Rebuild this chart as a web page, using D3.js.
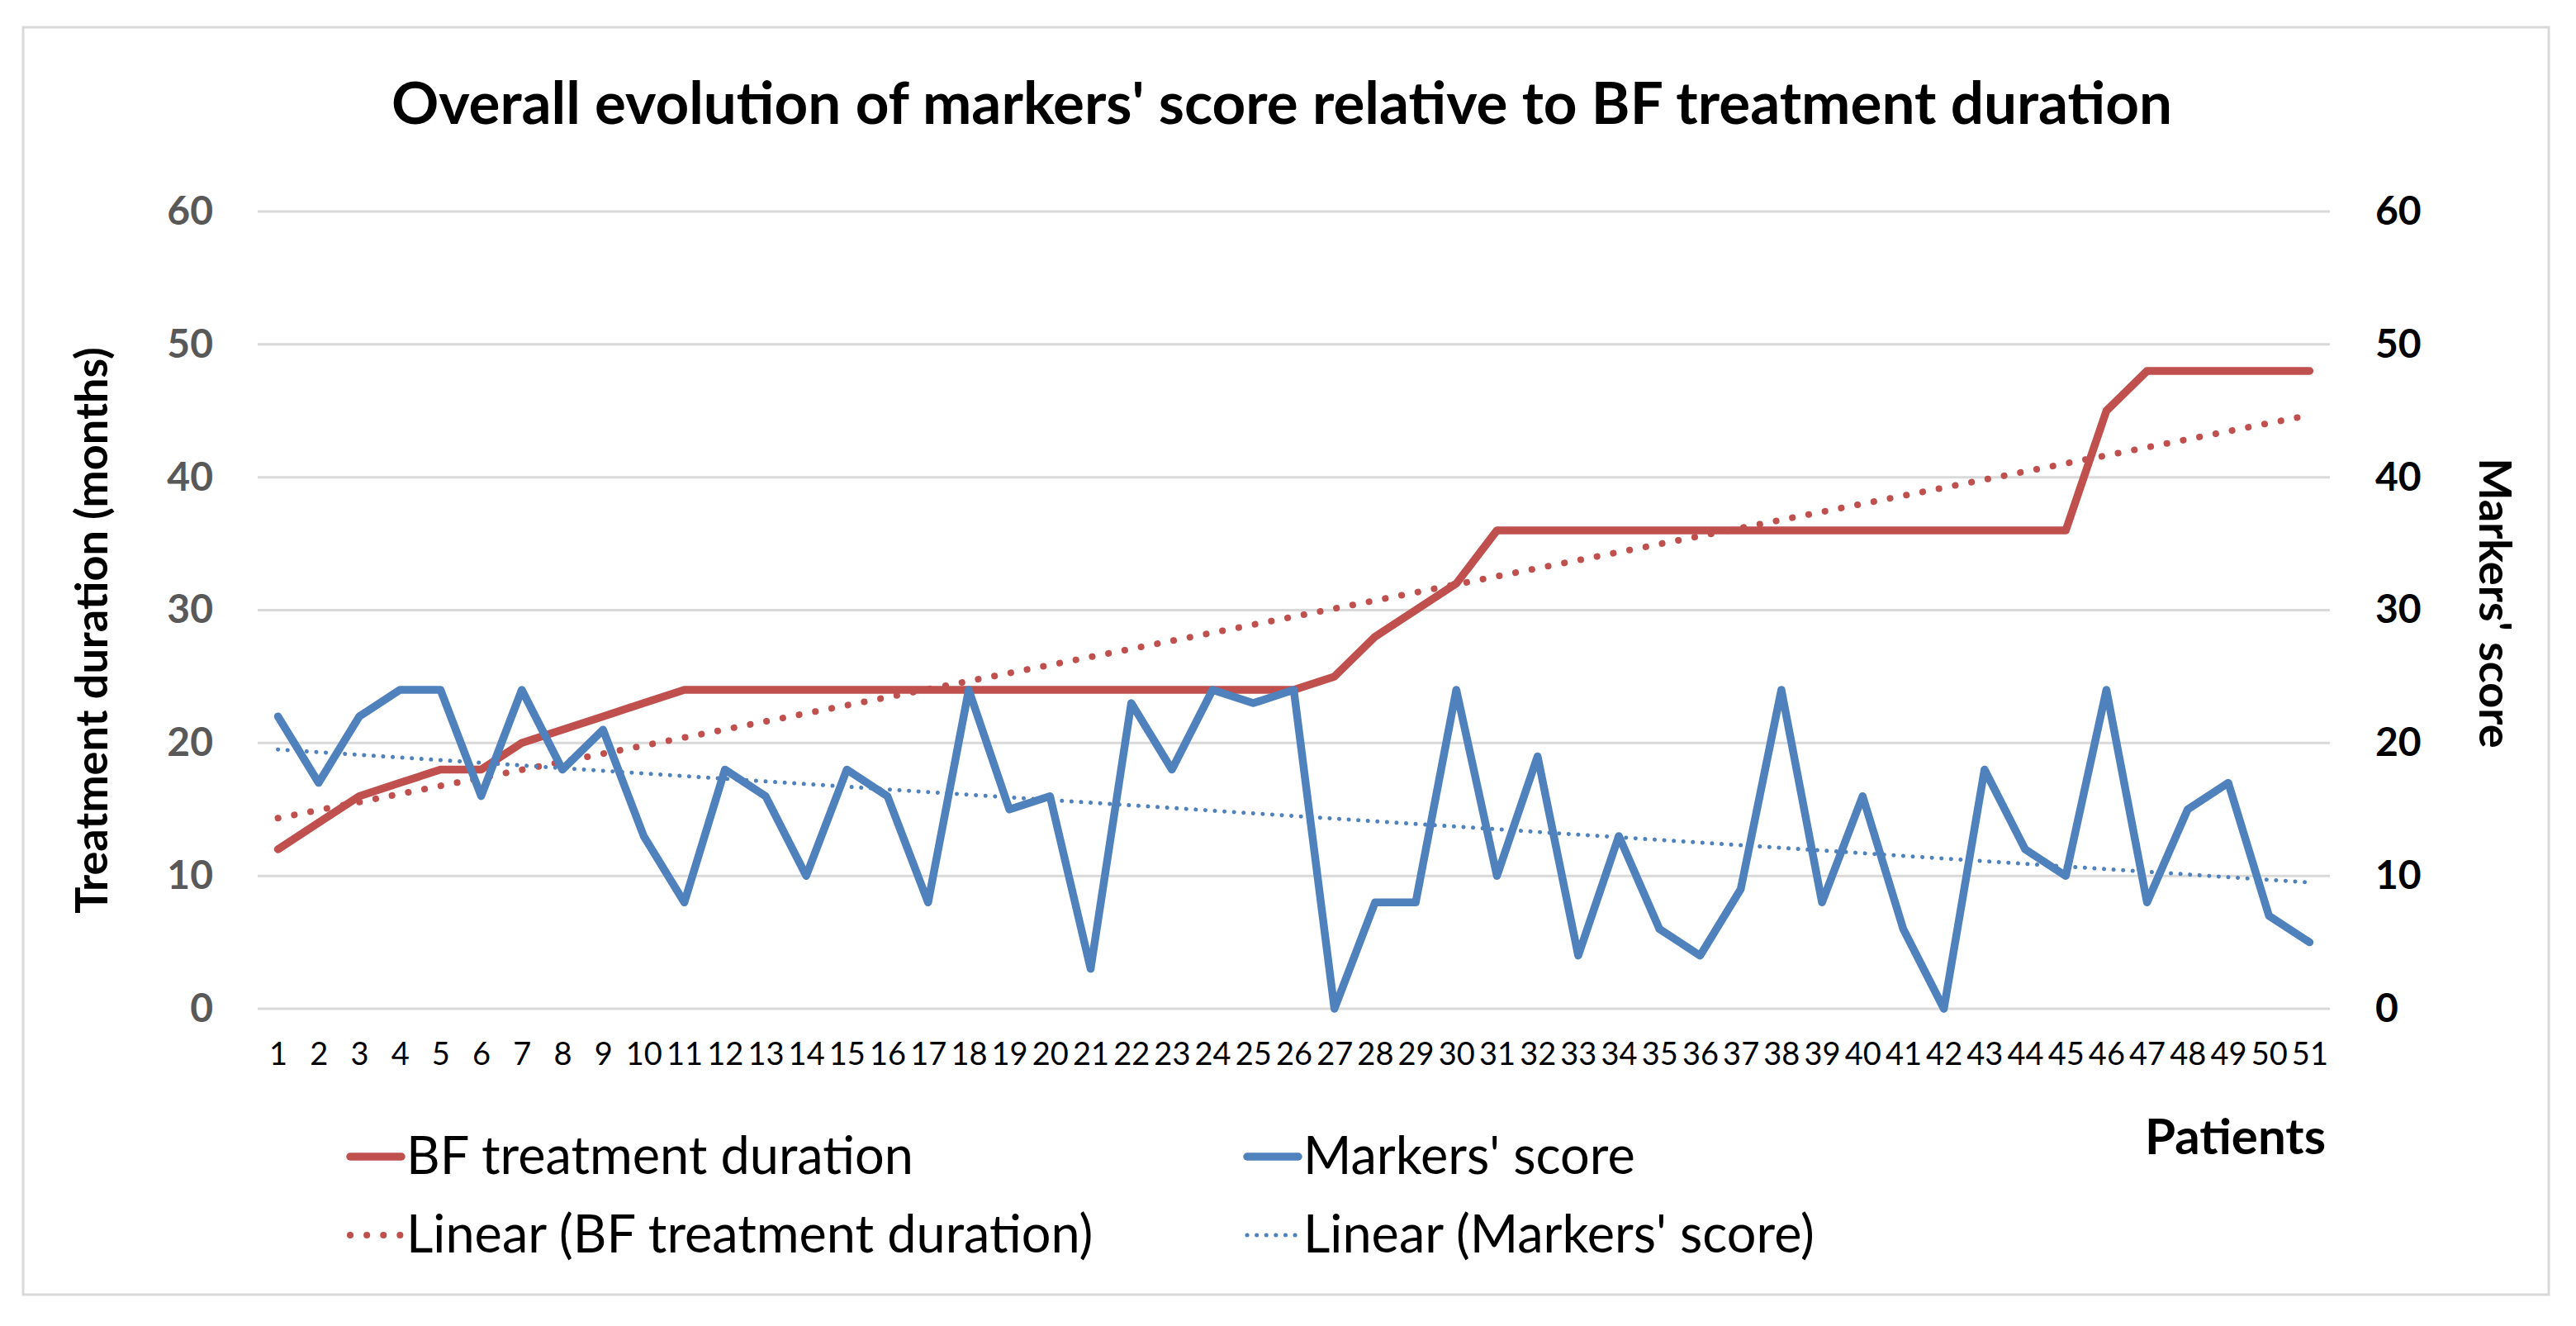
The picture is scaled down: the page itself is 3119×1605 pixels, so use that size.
<!DOCTYPE html>
<html>
<head>
<meta charset="utf-8">
<script src="https://cdn.jsdelivr.net/npm/d3@7"></script>
<style>
  body { margin: 0; background: #fff; }
  text { font-family: Lato, "Open Sans", sans-serif; }
</style>
</head>
<body>
<div id="chart"></div>
<script>
// patients 1..51
const patients = d3.range(1, 52).map(String);

// BF treatment duration (months), left axis
const duration = [12, 14, 16, 17, 18, 18, 20, 21, 22, 23,
                  24, 24, 24, 24, 24, 24, 24, 24, 24, 24,
                  24, 24, 24, 24, 24, 24, 25, 28, 30, 32,
                  36, 36, 36, 36, 36, 36, 36, 36, 36, 36,
                  36, 36, 36, 36, 36, 45, 48, 48, 48, 48, 48];

// Markers' score, right axis
const score = [22, 17, 22, 24, 24, 16, 24, 18, 21, 13,
               8, 18, 16, 10, 18, 16, 8, 24, 15, 16,
               3, 23, 18, 24, 23, 24, 0, 8, 8, 24,
               10, 19, 4, 13, 6, 4, 9, 24, 8, 16,
               6, 0, 18, 12, 10, 24, 8, 15, 17, 7, 5];

const yTicks = [0, 10, 20, 30, 40, 50, 60];

const width = 3119;
const height = 1605;
const plot = { left: 312, right: 2821, top: 256, bottom: 1221 };

const red = "#c0504d";
const blue = "#4f81bd";

const svg = d3.select("#chart")
    .append("svg")
    .attr("width", width)
    .attr("height", height);

svg.append("rect")
    .attr("width", width).attr("height", height)
    .attr("fill", "#fff");

// chart frame
svg.append("rect")
    .attr("x", 28).attr("y", 33)
    .attr("width", 3058).attr("height", 1534)
    .attr("fill", "none")
    .attr("stroke", "#d9d9d9")
    .attr("stroke-width", 3);

const x = d3.scalePoint()
    .domain(patients)
    .range([plot.left, plot.right])
    .padding(0.5);

const yLeft = d3.scaleLinear().domain([0, 60]).range([plot.bottom, plot.top]);
const yRight = d3.scaleLinear().domain([0, 60]).range([plot.bottom, plot.top]);

// gridlines
svg.append("g")
    .selectAll("line")
    .data(yTicks)
    .enter()
    .append("line")
    .attr("x1", plot.left).attr("x2", plot.right)
    .attr("y1", d => yLeft(d)).attr("y2", d => yLeft(d))
    .attr("stroke", "#d9d9d9")
    .attr("stroke-width", 3);

const leftAxis = svg.append("g")
    .attr("transform", `translate(${plot.left},0)`)
    .call(d3.axisLeft(yLeft).tickValues(yTicks).tickSize(0).tickPadding(54));

const rightAxis = svg.append("g")
    .attr("transform", `translate(${plot.right},0)`)
    .call(d3.axisRight(yRight).tickValues(yTicks).tickSize(0).tickPadding(55));

const xAxis = svg.append("g")
    .attr("transform", `translate(0,${plot.bottom})`)
    .call(d3.axisBottom(x).tickSize(0).tickPadding(41));

[leftAxis, rightAxis, xAxis].forEach(a => a.select(".domain").remove());

leftAxis.selectAll("text")
    .style("font-family", "Lato")
    .style("font-size", "48px")
    .style("font-weight", "bold")
    .attr("fill", "#595959");

rightAxis.selectAll("text")
    .style("font-family", "Lato")
    .style("font-size", "48px")
    .style("font-weight", "bold")
    .attr("fill", "#000");

xAxis.selectAll("text")
    .style("font-family", "Lato")
    .style("font-size", "38px")
    .attr("fill", "#000");

// linear trendlines (least squares, like Excel)
function trend(values) {
    const xs = values.map((d, i) => i + 1);
    const mx = d3.mean(xs), my = d3.mean(values);
    const slope = d3.sum(xs, (v, i) => (v - mx) * (values[i] - my)) / d3.sum(xs, v => (v - mx) * (v - mx));
    const icpt = my - slope * mx;
    return xs.map(v => icpt + slope * v);
}

const lineLeft = d3.line()
    .x((d, i) => x(patients[i]))
    .y(d => yLeft(d));

const lineRight = d3.line()
    .x((d, i) => x(patients[i]))
    .y(d => yRight(d));

svg.append("path")
    .attr("d", lineLeft(trend(duration)))
    .attr("fill", "none")
    .attr("stroke", red)
    .attr("stroke-width", 8)
    .attr("stroke-linecap", "round")
    .attr("stroke-dasharray", "0.1 20");

svg.append("path")
    .attr("d", lineRight(trend(score)))
    .attr("fill", "none")
    .attr("stroke", blue)
    .attr("stroke-width", 5)
    .attr("stroke-linecap", "round")
    .attr("stroke-dasharray", "0.1 11.5");

svg.append("path")
    .attr("d", lineLeft(duration))
    .attr("fill", "none")
    .attr("stroke", red)
    .attr("stroke-width", 9.5)
    .attr("stroke-linejoin", "round")
    .attr("stroke-linecap", "round");

svg.append("path")
    .attr("d", lineRight(score))
    .attr("fill", "none")
    .attr("stroke", blue)
    .attr("stroke-width", 9.5)
    .attr("stroke-linejoin", "round")
    .attr("stroke-linecap", "round");

// title
svg.append("text")
    .attr("x", 1552).attr("y", 150)
    .attr("text-anchor", "middle")
    .style("font-size", "71px")
    .style("font-weight", "bold")
    .text("Overall evolution of markers' score relative to BF treatment duration");

// axis titles
svg.append("text")
    .attr("transform", "translate(130,763) rotate(-90)")
    .attr("text-anchor", "middle")
    .style("font-size", "54px")
    .style("font-weight", "bold")
    .text("Treatment duration (months)");

svg.append("text")
    .attr("transform", "translate(3002,730) rotate(90)")
    .attr("text-anchor", "middle")
    .style("font-size", "54px")
    .style("font-weight", "bold")
    .text("Markers' score");

svg.append("text")
    .attr("x", 2816).attr("y", 1397)
    .attr("text-anchor", "end")
    .style("font-size", "60px")
    .style("font-weight", "bold")
    .text("Patients");

// legend
const legendItems = [
    { label: "BF treatment duration", color: red, w: 9.5, dash: null, x: 420, y: 1400 },
    { label: "Markers' score", color: blue, w: 9.5, dash: null, x: 1506, y: 1400 },
    { label: "Linear (BF treatment duration)", color: red, w: 8, dash: "0.1 20", x: 420, y: 1495 },
    { label: "Linear (Markers' score)", color: blue, w: 5, dash: "0.1 11.5", x: 1506, y: 1495 }
];

const legend = svg.append("g")
    .selectAll("g")
    .data(legendItems)
    .enter()
    .append("g")
    .attr("transform", d => `translate(${d.x},${d.y})`);

legend.append("line")
    .attr("x1", 4).attr("x2", 66)
    .attr("stroke", d => d.color)
    .attr("stroke-width", d => d.w)
    .attr("stroke-linecap", "round")
    .attr("stroke-dasharray", d => d.dash);

legend.append("text")
    .attr("x", 72)
    .attr("y", 21)
    .style("font-size", "63px")
    .text(d => d.label);
</script>
</body>
</html>
